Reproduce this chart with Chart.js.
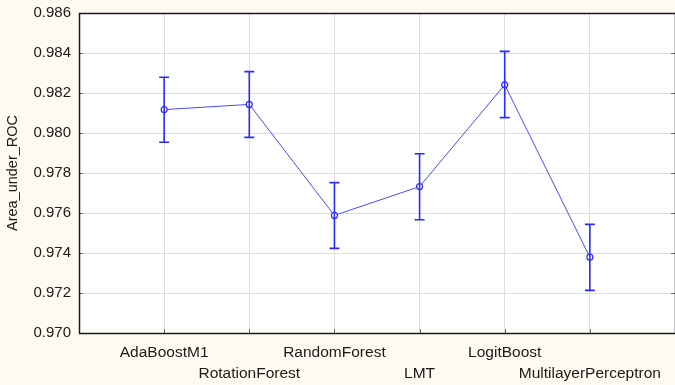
<!DOCTYPE html>
<html>
<head>
<meta charset="utf-8">
<script src="https://cdn.jsdelivr.net/npm/chart.js@4/dist/chart.umd.min.js"></script>
<style>
  html, body { margin: 0; padding: 0; background: #fffaf0; }
  #wrap { width: 675px; height: 385px; }
</style>
</head>
<body>
<div id="wrap"><canvas id="c" width="675" height="385"></canvas></div>
<script>
// ---- data ----
const categories = ['AdaBoostM1', 'RotationForest', 'RandomForest', 'LMT', 'LogitBoost', 'MultilayerPerceptron'];
const meanValues = [0.98117, 0.98143, 0.97588, 0.97732, 0.98241, 0.97379];
const upperValues = [0.98279, 0.98307, 0.97752, 0.97896, 0.98408, 0.97543];
const lowerValues = [0.97954, 0.97978, 0.97423, 0.97566, 0.98077, 0.97213];
const yTickMin = 0.970, yTickMax = 0.986, yTickStep = 0.002;
const yTitle = 'Area_under_ROC';

// padded category axis: an empty slot on each side
const labels = [''].concat(categories, ['']);
const lineData = [null].concat(meanValues, [null]);
const upData = [null].concat(upperValues, [null]);
const loData = [null].concat(lowerValues, [null]);

const FONT = '"Liberation Sans", Arial, sans-serif';

const frame = {
  id: 'frame',
  beforeDraw(chart) {
    const { ctx, chartArea: a } = chart;
    ctx.save();
    ctx.fillStyle = '#fffaf0';
    ctx.fillRect(0, 0, chart.width, chart.height);
    ctx.fillStyle = '#ffffff';
    ctx.fillRect(a.left, a.top, a.right - a.left, a.bottom - a.top);
    ctx.restore();
  },
  beforeDatasetsDraw(chart) {
    const { ctx, chartArea: a, scales } = chart;
    ctx.save();
    ctx.strokeStyle = '#666';
    ctx.lineWidth = 1;
    scales.y.ticks.forEach((t) => {
      const y = Math.round(scales.y.getPixelForValue(t.value)) + 0.5;
      ctx.beginPath(); ctx.moveTo(a.left, y); ctx.lineTo(a.left + 4, y); ctx.stroke();
      ctx.beginPath(); ctx.moveTo(a.right, y); ctx.lineTo(a.right - 4, y); ctx.stroke();
    });
    for (let i = 1; i < labels.length - 1; i++) {
      const x = Math.round(scales.x.getPixelForValue(i)) + 0.5;
      ctx.beginPath(); ctx.moveTo(x, a.bottom); ctx.lineTo(x, a.bottom - 4); ctx.stroke();
    }
    ctx.strokeStyle = '#1a1a1a';
    ctx.lineWidth = 1.5;
    ctx.strokeRect(a.left + 0.5, a.top + 0.5, a.right - a.left, a.bottom - a.top);
    ctx.restore();
  },
  afterDatasetsDraw(chart) {
    const { ctx, scales } = chart;
    ctx.save();
    ctx.strokeStyle = '#2b2bff';
    ctx.lineWidth = 1.6;
    for (let i = 0; i < labels.length; i++) {
      if (upData[i] == null) continue;
      const x = scales.x.getPixelForValue(i);
      const yu = scales.y.getPixelForValue(upData[i]);
      const yl = scales.y.getPixelForValue(loData[i]);
      ctx.beginPath();
      ctx.moveTo(x, yu); ctx.lineTo(x, yl);
      ctx.moveTo(x - 5, yu); ctx.lineTo(x + 5, yu);
      ctx.moveTo(x - 5, yl); ctx.lineTo(x + 5, yl);
      ctx.stroke();
    }
    ctx.restore();
  }
};

new Chart(document.getElementById('c'), {
  type: 'line',
  data: {
    labels: labels.map((l, i) => {
      if (l === '') return '';
      return (i % 2 === 1) ? [l, ''] : ['', l];
    }),
    datasets: [{
      data: lineData,
      borderColor: '#4a4aff',
      borderWidth: 1,
      pointRadius: 3,
      pointBorderWidth: 1.2,
      pointBorderColor: '#2b2bff',
      pointBackgroundColor: '#ffffff',
      tension: 0,
      spanGaps: false
    }]
  },
  options: {
    responsive: false,
    animation: false,
    devicePixelRatio: 1,
    layout: { autoPadding: false, padding: { top: 13, right: 0, left: 0, bottom: 0 } },
    plugins: { legend: { display: false }, tooltip: { enabled: false } },
    scales: {
      x: {
        type: 'category',
        offset: false,
        grid: { color: '#dedede', lineWidth: 1, drawTicks: false },
        border: { display: false },
        ticks: {
          autoSkip: false, maxRotation: 0, minRotation: 0, padding: 9,
          color: '#1a1a1a',
          font: { family: FONT, size: 15.5, lineHeight: 1.36 }
        },
        afterFit(s) { s.height = 52; s.paddingLeft = 0; s.paddingRight = 0; }
      },
      y: {
        min: yTickMin, max: yTickMax,
        grid: { color: '#dedede', lineWidth: 1, drawTicks: false },
        border: { display: false },
        ticks: {
          stepSize: yTickStep, padding: 8, color: '#1a1a1a',
          font: { family: FONT, size: 15 },
          callback: (v) => Number(v).toFixed(3)
        },
        title: {
          display: true, text: yTitle, color: '#1a1a1a',
          font: { family: FONT, size: 14.5 }, padding: { top: 4, bottom: 0 }
        },
        afterFit(s) { s.width = 79; s.paddingTop = 0; s.paddingBottom = 0; }
      }
    }
  },
  plugins: [frame]
});
</script>
</body>
</html>
